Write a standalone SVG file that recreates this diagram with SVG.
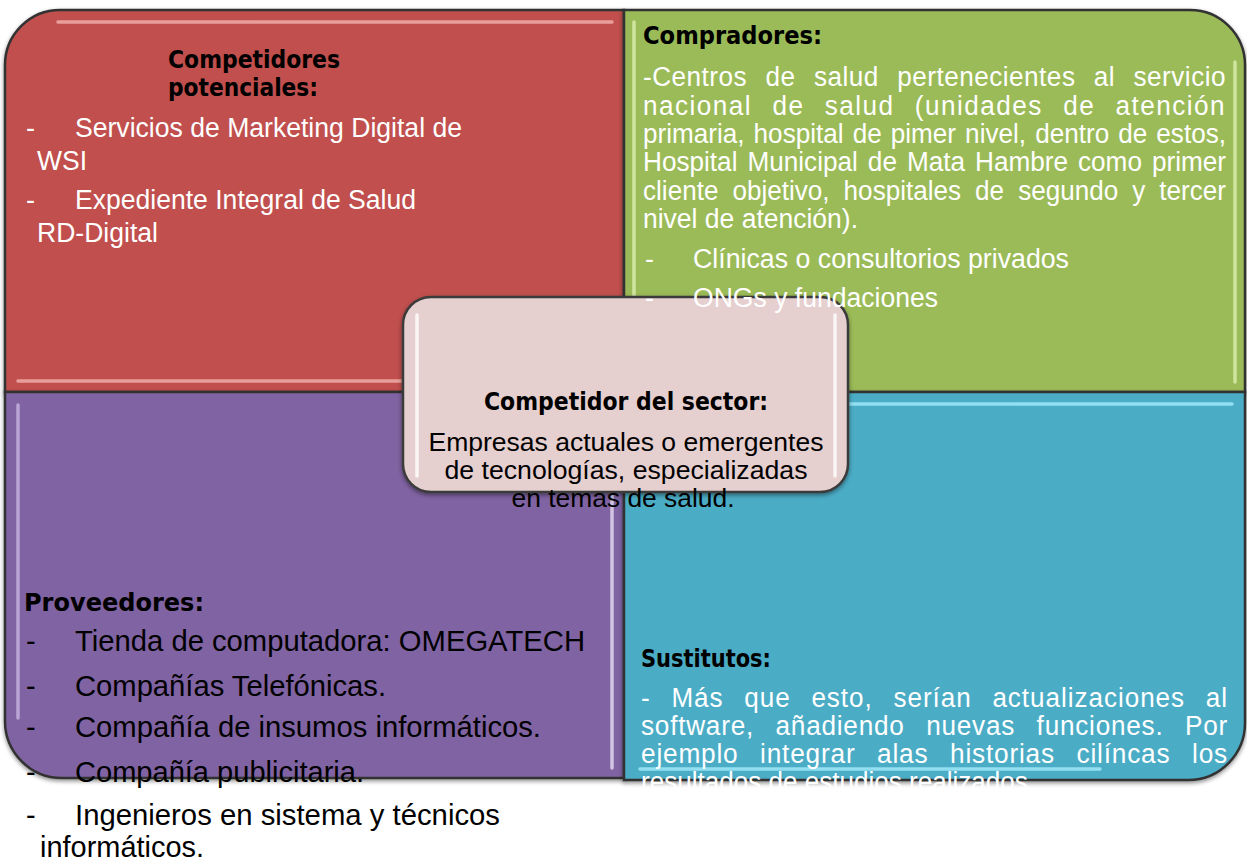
<svg xmlns="http://www.w3.org/2000/svg" width="1247" height="863" viewBox="0 0 1247 863">
<defs>
<style>
.q{stroke:#333333;stroke-width:2.5;}
.hl{stroke-width:3.5;stroke-linecap:round;fill:none;opacity:0.8;}
.b{font-family:"DejaVu Sans",Verdana,sans-serif;font-weight:bold;font-size:24px;fill:#000;}
.w{font-family:"Liberation Sans",Arial,Helvetica,sans-serif;font-size:27px;fill:#ffffff;}
.k{font-family:"Liberation Sans",Arial,Helvetica,sans-serif;font-size:29px;fill:#000;}
.c{font-family:"Liberation Sans",Arial,Helvetica,sans-serif;font-size:25.5px;fill:#000;text-anchor:middle;}
</style>
<filter id="sh" x="-5%" y="-5%" width="110%" height="115%">
<feDropShadow dx="0" dy="2" stdDeviation="2" flood-color="#000" flood-opacity="0.45"/>
</filter>
</defs>

<g id="competidores-potenciales" filter="url(#sh)">
<path class="q" fill="#c0504d" d="M5,65 A55,55 0 0 1 60,10 L624,10 L624,392 L5,392 Z"/>
<line class="hl" stroke="#f3b2b0" x1="58" y1="22" x2="612" y2="22"/>
<line class="hl" stroke="#f3b2b0" x1="18" y1="381" x2="600" y2="381"/>
</g>

<g id="compradores" filter="url(#sh)">
<path class="q" fill="#9bbb59" d="M624,10 L1190,10 A55,55 0 0 1 1245,65 L1245,392 L624,392 Z"/>
<line class="hl" stroke="#dcefb0" x1="634" y1="22" x2="634" y2="382"/>
<line class="hl" stroke="#dcefb0" x1="1235" y1="62" x2="1235" y2="382"/>
</g>

<g id="proveedores" filter="url(#sh)">
<path class="q" fill="#8064a2" d="M5,392 L624,392 L624,778 L62,778 A57,57 0 0 1 5,721 Z"/>
<line class="hl" stroke="#c7b4e2" x1="18" y1="405" x2="18" y2="718"/>
<line class="hl" stroke="#e6dcf3" x1="612" y1="405" x2="612" y2="768"/>
</g>

<g id="sustitutos" filter="url(#sh)">
<path class="q" fill="#4bacc6" d="M624,392 L1245,392 L1245,723 A57,57 0 0 1 1188,780 L624,780 Z"/>
<line class="hl" stroke="#a3ecfb" x1="640" y1="404" x2="1232" y2="404"/>
<line class="hl" stroke="#a3ecfb" x1="640" y1="769" x2="1100" y2="769"/>
</g>

<g id="connectors"></g>

<g id="competidor-sector" filter="url(#sh)">
<rect x="403" y="297" width="445" height="195" rx="28" ry="28" fill="#e6cfcf" stroke="#3a3a3a" stroke-width="2.5"/>
<line class="hl" stroke="#ffffff" x1="417" y1="315" x2="417" y2="476"/>
<line class="hl" stroke="#ffffff" x1="835" y1="315" x2="835" y2="476"/>
</g>

<g id="texts-competidores-potenciales">
<text class="b" x="168" y="68" textLength="172" lengthAdjust="spacingAndGlyphs">Competidores</text>
<text class="b" x="168" y="96" textLength="150" lengthAdjust="spacingAndGlyphs">potenciales:</text>
<text class="w" x="26" y="137">-</text>
<text class="w" x="75" y="137" textLength="387" lengthAdjust="spacingAndGlyphs">Servicios de Marketing Digital de</text>
<text class="w" x="37" y="170" textLength="50" lengthAdjust="spacingAndGlyphs">WSI</text>
<text class="w" x="26" y="209">-</text>
<text class="w" x="75" y="209" textLength="341" lengthAdjust="spacingAndGlyphs">Expediente Integral de Salud</text>
<text class="w" x="37" y="242" textLength="121" lengthAdjust="spacingAndGlyphs">RD-Digital</text>
</g>

<g id="texts-compradores">
<text class="b" x="643" y="44" textLength="179" lengthAdjust="spacingAndGlyphs">Compradores:</text>
<text class="w" x="643" y="86" letter-spacing="0.5" word-spacing="11" textLength="583" lengthAdjust="spacingAndGlyphs">-Centros de salud pertenecientes al servicio</text>
<text class="w" x="643" y="115" letter-spacing="1.5" word-spacing="12" textLength="583" lengthAdjust="spacingAndGlyphs">nacional de salud (unidades de atención</text>
<text class="w" x="643" y="143" word-spacing="1.9" textLength="583" lengthAdjust="spacingAndGlyphs">primaria, hospital de pimer nivel, dentro de estos,</text>
<text class="w" x="643" y="171" word-spacing="2.8" textLength="583" lengthAdjust="spacingAndGlyphs">Hospital Municipal de Mata Hambre como primer</text>
<text class="w" x="643" y="200" word-spacing="7" textLength="583" lengthAdjust="spacingAndGlyphs">cliente objetivo, hospitales de segundo y tercer</text>
<text class="w" x="643" y="228" textLength="215" lengthAdjust="spacingAndGlyphs">nivel de atención).</text>
<text class="w" x="645" y="268">-</text>
<text class="w" x="693" y="268" textLength="376" lengthAdjust="spacingAndGlyphs">Clínicas o consultorios privados</text>
<text class="w" x="645" y="307">-</text>
<text class="w" x="693" y="307" textLength="245" lengthAdjust="spacingAndGlyphs">ONGs y fundaciones</text>
</g>

<g id="texts-proveedores">
<text class="b" x="24" y="611" textLength="180" lengthAdjust="spacingAndGlyphs">Proveedores:</text>
<text class="k" x="26" y="651">-</text>
<text class="k" x="75" y="651" textLength="510" lengthAdjust="spacingAndGlyphs">Tienda de computadora: OMEGATECH</text>
<text class="k" x="26" y="696">-</text>
<text class="k" x="75" y="696" textLength="311" lengthAdjust="spacingAndGlyphs">Compañías Telefónicas.</text>
<text class="k" x="26" y="737">-</text>
<text class="k" x="75" y="737" textLength="466" lengthAdjust="spacingAndGlyphs">Compañía de insumos informáticos.</text>
<text class="k" x="26" y="782">-</text>
<text class="k" x="75" y="782" textLength="289" lengthAdjust="spacingAndGlyphs">Compañía publicitaria.</text>
<text class="k" x="26" y="825">-</text>
<text class="k" x="75" y="825" textLength="425" lengthAdjust="spacingAndGlyphs">Ingenieros en sistema y técnicos</text>
<text class="k" x="40" y="857" textLength="164" lengthAdjust="spacingAndGlyphs">informáticos.</text>
</g>

<g id="texts-sustitutos">
<text class="b" x="641" y="667" textLength="130" lengthAdjust="spacingAndGlyphs">Sustitutos:</text>
<text class="w" x="641" y="707" letter-spacing="1" word-spacing="13" textLength="587" lengthAdjust="spacingAndGlyphs">- Más que esto, serían actualizaciones al</text>
<text class="w" x="641" y="735" letter-spacing="0.8" word-spacing="14" textLength="587" lengthAdjust="spacingAndGlyphs">software, añadiendo nuevas funciones. Por</text>
<text class="w" x="641" y="763" letter-spacing="0.8" word-spacing="14" textLength="587" lengthAdjust="spacingAndGlyphs">ejemplo integrar alas historias cilíncas los</text>
<text class="w" x="641" y="791" textLength="394" lengthAdjust="spacingAndGlyphs">resultados de estudios realizados.</text>
</g>

<g id="texts-competidor-sector">
<text class="b" x="626" y="410" text-anchor="middle" textLength="284" lengthAdjust="spacingAndGlyphs">Competidor del sector:</text>
<text class="c" x="626" y="451" textLength="395" lengthAdjust="spacingAndGlyphs">Empresas actuales o emergentes</text>
<text class="c" x="626" y="479" textLength="363" lengthAdjust="spacingAndGlyphs">de tecnologías, especializadas</text>
<text class="c" x="623" y="507" textLength="223" lengthAdjust="spacingAndGlyphs">en temas de salud.</text>
</g>
</svg>
